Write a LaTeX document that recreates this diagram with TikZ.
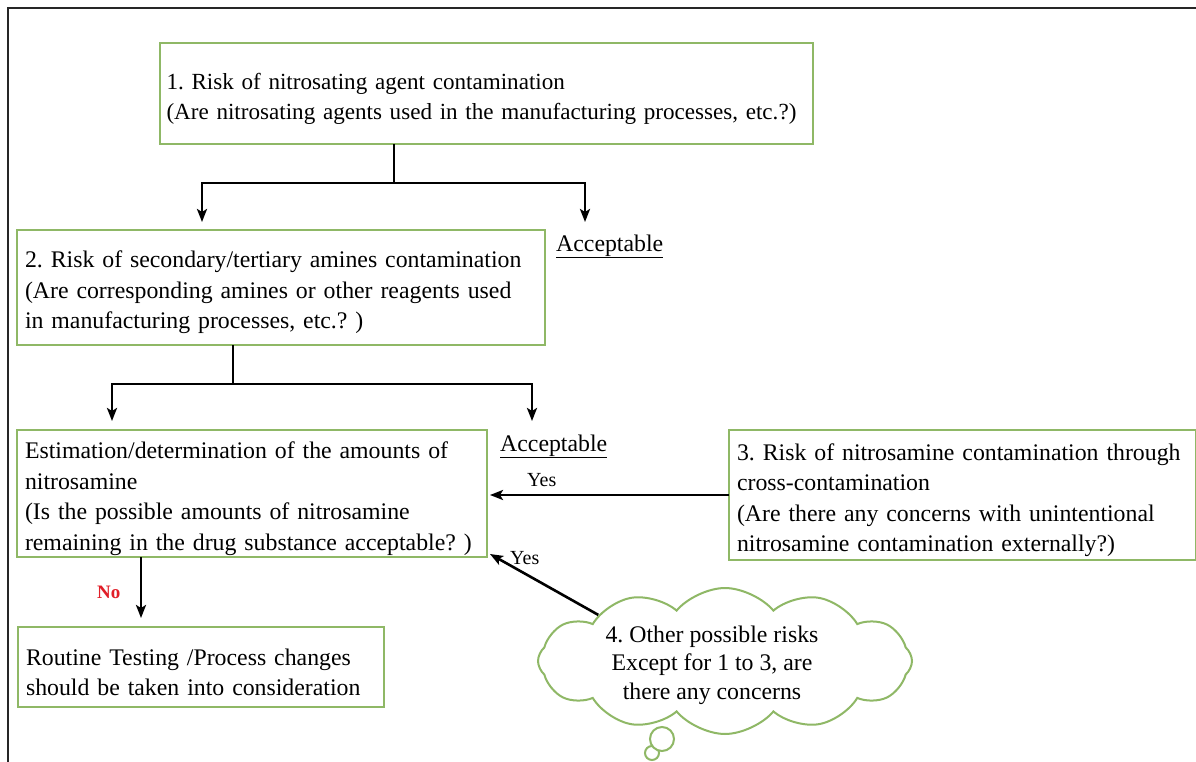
\documentclass[tikz,border=0pt]{standalone}
\usepackage{fontspec}
\setmainfont{Liberation Serif}
\usetikzlibrary{arrows.meta,shapes.symbols,calc}
\definecolor{boxgreen}{RGB}{143,184,102}
\definecolor{nored}{RGB}{225,30,40}
\newcommand{\topstrut}{\rule{0pt}{27pt}}
\begin{document}
\frenchspacing
\begin{tikzpicture}[x=1pt,y=-1pt,
  box/.style={draw=boxgreen,line width=2.5pt,rectangle,anchor=north west,outer sep=0pt,
    inner xsep=8pt,inner ysep=0pt,align=left,font=\fontsize{23.8}{30.5}\selectfont},
  conn/.style={line width=2.6pt},
  arr/.style={line width=2.6pt,-{Stealth[length=13pt,width=10pt,inset=3pt]}},
  lbl/.style={font=\fontsize{23.8}{28}\selectfont,inner sep=0pt,anchor=base west},
  yeslbl/.style={font=\fontsize{20}{24}\selectfont,inner sep=0pt,anchor=base west},
  cloudline/.style={draw=boxgreen,line width=2pt,fill=white}]
\useasboundingbox (0,0) rectangle (1196,762);
\fill[white] (0,0) rectangle (1196,762);
\draw[line width=1.5pt,black!85] (8,762) -- (8,8) -- (1196,8);

% boxes
\node[box,minimum width=653pt,minimum height=101pt,text width=640pt,inner xsep=6.5pt,
  font=\fontsize{23.1}{30}\selectfont] (b1) at (160,43)
  {\topstrut 1. Risk of nitrosating agent contamination\\(Are nitrosating agents used in the manufacturing processes, etc.?)};
\node[box,minimum width=528pt,minimum height=115pt,text width=512pt] (b2) at (17,230)
  {\topstrut 2. Risk of secondary/tertiary amines contamination\\(Are corresponding amines or other reagents used\\in manufacturing processes, etc.? )};
\node[box,minimum width=470pt,minimum height=127pt,text width=454pt] (b3) at (17,430)
  {\topstrut Estimation/determination of the amounts of\\nitrosamine\\(Is the possible amounts of nitrosamine\\remaining in the drug substance acceptable? )};
\node[box,minimum width=467pt,minimum height=130pt,text width=451pt] (br) at (729,430)
  {\topstrut 3. Risk of nitrosamine contamination through\\cross-contamination\\(Are there any concerns with unintentional\\nitrosamine contamination externally?)};
\node[box,minimum width=366pt,minimum height=80pt,text width=350pt] (b4) at (18,627)
  {\topstrut Routine Testing /Process changes\\should be taken into consideration};

% cloud
\draw[cloudline] (652,753) circle (7pt);
\draw[cloudline] (662,739) circle (12pt);
\node[cloud,cloudline,cloud puffs=12,cloud puff arc=100,aspect=2.6,
  minimum width=374pt,minimum height=146pt,inner sep=0pt] (cl) at (725,661) {};
\node[align=center,inner sep=0pt,font=\fontsize{23.8}{28.5}\selectfont] (cltext) at (712,665)
  {4. Other possible risks\\Except for 1 to 3, are\\there any concerns};

% labels
\node[lbl] (acc1) at (556,251) {\underline{Acceptable}};
\node[lbl] (acc2) at (500,451) {\underline{Acceptable}};
\node[yeslbl] (yes1) at (527,486) {Yes};
\node[yeslbl] (yes2) at (510,564) {Yes};
\node[yeslbl,font=\fontsize{19}{22}\selectfont\bfseries,text=nored] (no) at (97,598) {No};

% connectors
\coordinate (j1) at (394,183);
\coordinate (t1) at (585,222);
\coordinate (x1) at (202,0);
\draw[conn] (b1.south -| j1) -- (j1);
\draw[arr,shorten >=8pt] (j1) -| (b2.north -| x1);
\draw[arr] (j1) -| (t1);

\coordinate (j2) at (233,384);
\coordinate (t2) at (532,421);
\coordinate (x2) at (112,0);
\draw[conn] (b2.south -| j2) -- (j2);
\draw[arr,shorten >=9pt] (j2) -| (b3.north -| x2);
\draw[arr] (j2) -| (t2);

\draw[arr] (br.west) -- ([xshift=3pt]br.west -| b3.east);
\draw[arr] (cl.160) -- ([xshift=3pt,yshift=3pt]b3.south east);

\coordinate (x3) at (141,0);
\draw[arr,shorten >=9pt] (b3.south -| x3) -- (b4.north -| x3);
\end{tikzpicture}
\end{document}
